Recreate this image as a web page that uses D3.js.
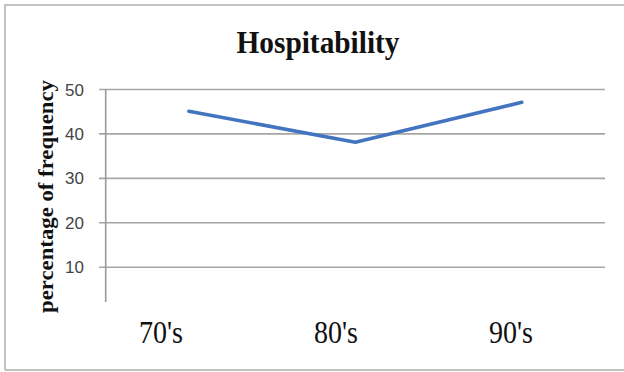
<!DOCTYPE html>
<html><head><meta charset="utf-8">
<script src="https://d3js.org/d3.v7.min.js"></script>
<style>html,body{margin:0;padding:0;background:#fff;}svg{display:block;}</style>
</head><body>
<script>
const categories = ["70's", "80's", "90's"];
const values = [45, 38, 47];
const yTicks = [10, 20, 30, 40, 50];
const title = "Hospitability";
const yTitle = "percentage of frequency";

const W = 624, H = 372;
const svg = d3.select("body").append("svg").attr("width", W).attr("height", H);

// frame
svg.append("path").attr("d", "M5,370 L5,5 L624,5 M5,370 L624,370")
  .attr("fill", "none").attr("stroke", "#b0b0b0").attr("stroke-width", 1.5);

const plotL = 105.7, plotR = 605;
const x = d3.scalePoint().domain(categories).range([plotL, plotR]).padding(0.5);
const xLab = d3.scalePoint().domain(categories).range([161, 511]);
const y = d3.scaleLinear().domain([0, 50]).range([311.1, 89]);

// gridlines + tick labels via axis
const yAxis = d3.axisLeft(y).tickValues(yTicks).tickSize(-(plotR - 99)).tickPadding(15);
const gy = svg.append("g").attr("transform", `translate(99,0)`).call(yAxis);
gy.select(".domain").remove();
gy.selectAll(".tick line").attr("stroke", "#a6a6a6").attr("stroke-width", 1.6);
gy.selectAll(".tick text").attr("fill", "#444").attr("font-family", "Liberation Sans, Arial, sans-serif")
  .attr("font-size", 17).attr("dy", "0.36em");

// vertical axis line
svg.append("line").attr("x1", plotL).attr("x2", plotL).attr("y1", y(50)).attr("y2", 302)
  .attr("stroke", "#999").attr("stroke-width", 1.6);

// data line
svg.append("path").datum(values)
  .attr("d", d3.line().x((d, i) => x(categories[i])).y(d => y(d)))
  .attr("fill", "none").attr("stroke", "#4274bf").attr("stroke-width", 3.6)
  .attr("stroke-linecap", "round").attr("stroke-linejoin", "round");

// category labels
svg.selectAll("text.cat").data(categories).enter().append("text").attr("class", "cat")
  .attr("x", d => xLab(d)).attr("y", 343).attr("text-anchor", "middle")
  .attr("font-family", "Liberation Serif, Times New Roman, serif").attr("font-size", 32)
  .attr("fill", "#111").attr("textLength", 44).attr("lengthAdjust", "spacingAndGlyphs")
  .text(d => d);

// title
svg.append("text").attr("x", 318).attr("y", 53.3).attr("text-anchor", "middle")
  .attr("font-family", "Liberation Serif, Times New Roman, serif").attr("font-weight", "bold")
  .attr("font-size", 31).attr("fill", "#111").attr("textLength", 163).attr("lengthAdjust", "spacingAndGlyphs")
  .text(title);

// y title
svg.append("text").attr("transform", "translate(52.5,313) rotate(-90)")
  .attr("x", 0).attr("y", 0).attr("text-anchor", "start")
  .attr("font-family", "Liberation Serif, Times New Roman, serif").attr("font-weight", "bold")
  .attr("font-size", 20).attr("fill", "#111").attr("textLength", 233).attr("lengthAdjust", "spacingAndGlyphs")
  .text(yTitle);
</script>
</body></html>
